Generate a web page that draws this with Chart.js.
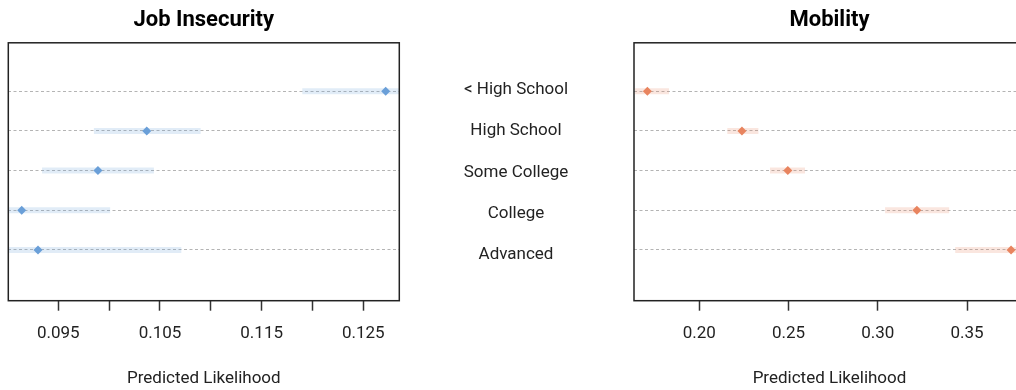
<!DOCTYPE html>
<html>
<head>
<meta charset="utf-8">
<script src="https://cdn.jsdelivr.net/npm/chart.js@4.4.0/dist/chart.umd.min.js"></script>
<style>
  html, body { margin: 0; padding: 0; background: #fff; overflow: hidden; }
  body { width: 1016px; height: 390px; position: relative; }
  canvas { position: absolute; top: 0; }
  #jobChart { left: 0; }
  #mobChart { left: 410px; }
</style>
</head>
<body>
<canvas id="jobChart" width="410" height="390"></canvas>
<canvas id="mobChart" width="630" height="390"></canvas>
<script>
const categories = ['< High School', 'High School', 'Some College', 'College', 'Advanced'];

// Job Insecurity: estimate and interval
const job_est = [0.1272, 0.1037, 0.0989, 0.0914, 0.0930];
const job_lo = [0.1190, 0.0985, 0.0934, 0.0827, 0.0790];
const job_hi = [0.1354, 0.1090, 0.1044, 0.1001, 0.1071];
const job_ticks = [0.095, 0.100, 0.105, 0.110, 0.115, 0.120, 0.125];

// Mobility: estimate and interval
const mob_est = [0.1709, 0.2239, 0.2496, 0.3219, 0.3747];
const mob_lo = [0.1640, 0.2157, 0.2396, 0.3041, 0.3434];
const mob_hi = [0.1830, 0.2331, 0.2592, 0.3400, 0.4060];
const mob_ticks = [0.20, 0.25, 0.30, 0.35];

const main = () => {
  Chart.defaults.font.family = 'Roboto';
  Chart.defaults.font.size = 17;
  Chart.defaults.color = '#222';

  const boxPlugin = {
    id: 'box',
    afterDatasetsDraw(chart) {
      const { ctx, chartArea: a } = chart;
      ctx.save();
      ctx.strokeStyle = '#222';
      ctx.lineWidth = 1.5;
      ctx.strokeRect(a.left, a.top, a.right - a.left, a.bottom - a.top);
      ctx.restore();
    },
  };

  const ciPoints = (lo, hi) =>
    lo.flatMap((l, i) => [{ x: l, y: i }, { x: hi[i], y: i }, { x: null, y: null }]);
  const estPoints = (est) => est.map((v, i) => ({ x: v, y: i }));

  // measure widest category label so the centered labels sit mid-gap
  const mctx = document.createElement('canvas').getContext('2d');
  mctx.font = '17px Roboto';
  const widest = Math.max(...categories.map((c) => mctx.measureText(c).width));

  const rowTicks = (s) => { s.ticks = categories.map((c, i) => ({ value: i })); };

  const makeConfig = (opts) => {
    const scales = {
      x: {
        type: 'linear',
        min: opts.min,
        max: opts.max,
        afterBuildTicks: (s) => { s.ticks = opts.ticks.map((v) => ({ value: v })); },
        afterFit: (s) => { s.height = 89.3; },
        ticks: {
          autoSkip: false,
          maxRotation: 0,
          padding: 13,
          color: '#222',
          callback: opts.tickLabel,
        },
        grid: { drawOnChartArea: false, tickLength: 10, tickColor: '#333', tickWidth: 1.5 },
        border: { display: false },
        title: {
          display: true,
          text: 'Predicted Likelihood',
          color: '#222',
          padding: { top: 0, bottom: 1 },
        },
      },
      y: {
        type: 'linear',
        position: 'left',
        reverse: true,
        min: -1.22,
        max: 5.28,
        afterBuildTicks: rowTicks,
        afterFit: (s) => { s.width = opts.yWidth; s.paddingTop = 0; s.paddingBottom = 0; },
        ticks: { display: false },
        grid: { color: '#b4b4b4', lineWidth: 1, drawTicks: false, tickLength: 0 },
        border: { display: false, dash: [3, 2.5] },
      },
    };
    if (opts.showLabels) {
      // category names sit in the gap between the panels, spaced a bit wider than the rows
      scales.cat = {
        type: 'linear',
        position: 'left',
        reverse: true,
        min: -1.136,
        max: 5.111,
        afterBuildTicks: rowTicks,
        afterFit: (s) => { s.width = opts.labelWidth; s.paddingTop = 0; s.paddingBottom = 0; },
        ticks: {
          crossAlign: 'center',
          padding: opts.labelWidth - opts.labelCenter - widest / 2,
          color: '#222',
          callback: (v) => categories[v],
        },
        grid: { display: false, drawTicks: false, tickLength: 0 },
        border: { display: false },
      };
    }
    return {
      type: 'scatter',
      data: {
        datasets: [
          {
            data: estPoints(opts.est),
            pointStyle: 'rectRot',
            pointRadius: 4.5,
            pointBackgroundColor: opts.color,
            pointBorderWidth: 0,
            showLine: false,
          },
          {
            data: ciPoints(opts.lo, opts.hi),
            showLine: true,
            spanGaps: false,
            pointRadius: 0,
            borderWidth: 6,
            borderColor: opts.band,
            borderCapStyle: 'butt',
            clip: 0,
          },
        ],
      },
      options: {
        responsive: false,
        animation: false,
        layout: { padding: { top: 0, right: opts.padRight, bottom: 0, left: 0 } },
        scales,
        plugins: {
          legend: { display: false },
          tooltip: { enabled: false },
          title: {
            display: true,
            text: opts.title,
            fullSize: false,
            color: '#000',
            font: { size: 22, weight: 'bold' },
            padding: { top: 7, bottom: 9.4 },
          },
        },
      },
      plugins: [boxPlugin],
    };
  };

  new Chart(document.getElementById('jobChart').getContext('2d'), makeConfig({
    title: 'Job Insecurity',
    est: job_est, lo: job_lo, hi: job_hi,
    min: 0.09008, max: 0.12854,
    ticks: job_ticks,
    tickLabel: (v, i) => (i % 2 === 0 ? v.toFixed(3) : ''),
    color: '#6a9fd8',
    band: 'rgba(106, 159, 216, 0.2)',
    yWidth: 8.3,
    padRight: 10.7,
    showLabels: false,
  }));

  new Chart(document.getElementById('mobChart').getContext('2d'), makeConfig({
    title: 'Mobility',
    est: mob_est, lo: mob_lo, hi: mob_hi,
    min: 0.1634, max: 0.3825,
    ticks: mob_ticks,
    tickLabel: (v) => v.toFixed(2),
    color: '#e8845f',
    band: 'rgba(232, 132, 95, 0.2)',
    yWidth: 0,
    labelWidth: 224,
    labelCenter: 106,
    padRight: 15,
    showLabels: true,
  }));
};

main();
</script>
</body>
</html>
